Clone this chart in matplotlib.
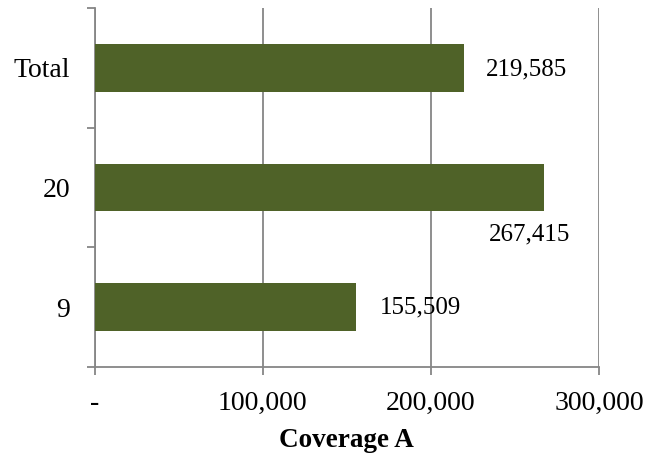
import matplotlib.pyplot as plt
import numpy as np

categories = ['9', '20', 'Total']
values = [155509, 267415, 219585]
xticks = [0, 100000, 200000, 300000]
xticklabels = ['-', '100,000', '200,000', '300,000']

plt.rcParams['font.family'] = ['Liberation Serif', 'DejaVu Serif']

fig = plt.figure(figsize=(6.5, 4.59), dpi=100)
ax = fig.add_axes([0.146, 0.2004, 0.7754, 0.7822])

grid_col = '#868686'
bar_col = '#4F6228'

y = np.arange(len(categories))
ax.barh(y, values, height=0.4, color=bar_col, zorder=3)

ax.set_xlim(0, 300000)
ax.set_ylim(-0.5, 2.5)

ax.set_xticks(xticks)
ax.set_xticklabels(xticklabels, fontsize=20)
ax.set_yticks(y)
ax.set_yticklabels(categories, fontsize=20)
ax.set_yticks([-0.5, 0.5, 1.5, 2.5], minor=True)

ax.tick_params(axis='y', which='major', length=0, pad=18)
ax.tick_params(axis='y', which='minor', length=6, color=grid_col, width=1.3)
ax.tick_params(axis='x', length=6, color=grid_col, width=1.3, pad=11)

ax.grid(axis='x', color=grid_col, linewidth=1.3, zorder=0)
for s in ['top', 'right']:
    ax.spines[s].set_visible(False)
for s in ['left', 'bottom']:
    ax.spines[s].set_color(grid_col)
    ax.spines[s].set_linewidth(1.3)

ax.set_xlabel('Coverage A', fontsize=19.5, fontweight='bold', labelpad=9)

# data labels (Excel placed the middle one below the bar)
offsets = [(17, 0), (-40, -34), (16, -1)]
for yi, v, off in zip(y, values, offsets):
    ax.annotate(f'{v:,}', (v, yi), xytext=off, textcoords='offset points',
                ha='left', va='center', fontsize=18)

plt.savefig('out.png')
